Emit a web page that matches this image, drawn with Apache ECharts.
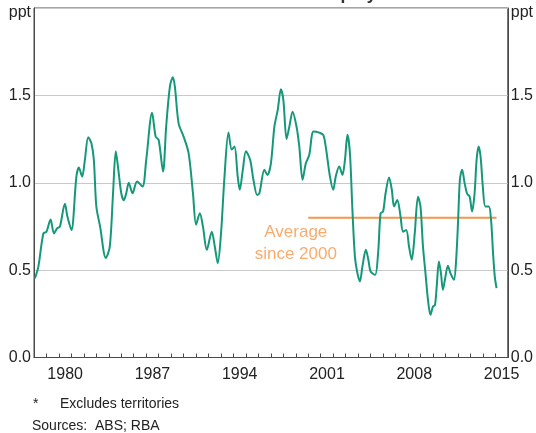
<!DOCTYPE html>
<html>
<head>
<meta charset="utf-8">
<script src="https://cdn.jsdelivr.net/npm/echarts@6/dist/echarts.min.js"></script>
<style>
html,body{margin:0;padding:0;background:#fff;}
#chart{width:536px;height:433px;}
</style>
</head>
<body>
<div id="chart"></div>
<script>
// Year categories for the axis (ticks at year boundaries, labels mid-year)
var years = [];
for (var yr = 1978; yr <= 2015; yr++) years.push(String(yr));
var labelYears = ['1980', '1987', '1994', '2001', '2008', '2015'];

// Standard deviation series (decimal year, ppt)
var sdTime = [1978.08,1978.35,1978.75,1979.0,1979.33,1979.6,1979.87,1980.08,1980.48,1980.67,1981.0,1981.4,1981.6,1981.86,1982.08,1982.35,1982.6,1982.8,1983.0,1983.3,1983.76,1984.08,1984.34,1984.56,1984.74,1985.0,1985.2,1985.4,1985.6,1985.9,1986.27,1986.7,1987.0,1987.47,1987.76,1988.0,1988.35,1988.6,1988.9,1989.14,1989.3,1989.6,1990.0,1990.4,1990.75,1991.0,1991.3,1991.55,1991.86,1992.26,1992.5,1992.74,1993.0,1993.28,1993.6,1993.86,1994.08,1994.34,1994.5,1994.75,1995.0,1995.34,1995.6,1995.9,1996.08,1996.48,1996.72,1997.0,1997.28,1997.55,1997.8,1998.0,1998.26,1998.48,1998.74,1999.06,1999.28,1999.54,1999.8,2000.08,2000.42,2000.88,2001.2,2001.4,2001.74,2002.0,2002.2,2002.48,2002.74,2002.94,2003.14,2003.34,2003.54,2003.74,2003.94,2004.14,2004.34,2004.62,2004.82,2005.0,2005.36,2005.6,2005.8,2006.0,2006.2,2006.48,2006.7,2006.88,2007.14,2007.4,2007.6,2007.86,2008.08,2008.3,2008.54,2008.8,2009.0,2009.2,2009.4,2009.6,2009.8,2010.0,2010.16,2010.3,2010.48,2010.64,2010.8,2010.96,2011.2,2011.4,2011.68,2011.86,2012.02,2012.16,2012.34,2012.54,2012.74,2012.94,2013.14,2013.34,2013.5,2013.66,2013.82,2014.0,2014.2,2014.48,2014.66,2014.82,2014.96,2015.1];
var sdValue = [0.454,0.52,0.71,0.72,0.79,0.71,0.74,0.75,0.88,0.81,0.73,1.035,1.087,1.035,1.13,1.26,1.227,1.13,0.864,0.75,0.569,0.635,0.94,1.18,1.09,0.94,0.90,0.94,1.0,0.94,1.007,0.978,1.13,1.40,1.264,1.245,1.064,1.32,1.55,1.604,1.55,1.34,1.264,1.17,0.94,0.76,0.826,0.75,0.616,0.72,0.635,0.54,0.71,1.035,1.287,1.19,1.207,1.035,0.96,1.074,1.18,1.13,1.017,0.93,0.94,1.074,1.045,1.11,1.32,1.417,1.535,1.474,1.251,1.32,1.407,1.32,1.207,1.017,1.11,1.16,1.293,1.287,1.274,1.207,1.035,0.96,1.035,1.093,1.045,1.13,1.274,1.17,0.845,0.578,0.483,0.435,0.52,0.616,0.559,0.492,0.473,0.597,0.826,0.835,0.94,1.03,0.96,0.864,0.902,0.807,0.72,0.73,0.635,0.559,0.71,0.92,0.864,0.635,0.483,0.33,0.244,0.292,0.30,0.406,0.549,0.483,0.387,0.445,0.525,0.483,0.445,0.559,0.788,1.017,1.074,0.998,0.937,0.921,0.835,0.94,1.13,1.207,1.15,0.978,0.864,0.864,0.788,0.597,0.463,0.397];

// Average since 2000
var avgTime = [2000.0, 2015.1];
var avgValue = 0.80;
var avgLabelPos = [1999.0, 0.653];
var avgLabelText = 'Average\nsince 2000';

var yTicks = [0, 0.5, 1, 1.5, 2];

var sdData = sdTime.map(function (t, i) { return [t, sdValue[i]]; });
var avgData = avgTime.map(function (t) { return [t, avgValue]; });

var chart = echarts.init(document.getElementById('chart'), null, {renderer: 'canvas'});

var axisColor = '#4a4a4a';
var textColor = '#222222';
var fontFam = 'Liberation Sans, Arial, sans-serif';

function yFmt(v) {
  if (Math.abs(v - 2) < 1e-9) return '{u|ppt}';
  return v.toFixed(1);
}
var yRich = { u: { fontSize: 16, color: textColor, fontFamily: fontFam, padding: [10, 0, 0, 0] } };

var option = {
  animation: false,
  backgroundColor: '#ffffff',
  title: {
    text: 'Standard Deviation of State Unemployment Rates*',
    left: 'center',
    top: -20,
    textStyle: { fontSize: 17.5, fontWeight: 'bold', color: '#333', fontFamily: fontFam }
  },
  grid: {
    left: 34, right: 26, top: 8, bottom: 75.5,
    show: true, borderColor: axisColor, borderWidth: 1
  },
  xAxis: [
    {
      type: 'category',
      data: years,
      boundaryGap: true,
      position: 'bottom',
      axisLine: { show: true, lineStyle: { color: axisColor, width: 1 } },
      axisTick: { show: true, inside: true, length: 4, interval: 0, lineStyle: { color: axisColor } },
      axisLabel: {
        interval: function (idx, val) { return labelYears.indexOf(val) >= 0; },
        fontSize: 16, color: textColor, fontFamily: fontFam, margin: 9
      },
      splitLine: { show: false }
    },
    {
      type: 'value',
      min: 1978, max: 2016,
      show: false
    }
  ],
  yAxis: [
    {
      type: 'value', min: 0, max: 2, interval: 0.5,
      position: 'left',
      axisLine: { show: true, lineStyle: { color: axisColor } },
      axisTick: { show: false },
      axisLabel: { formatter: yFmt, rich: yRich, fontSize: 16, color: textColor, fontFamily: fontFam, margin: 3 },
      splitLine: { show: true, lineStyle: { color: '#c9c9c9', width: 1 } }
    },
    {
      type: 'value', min: 0, max: 2, interval: 0.5,
      position: 'right',
      axisLine: { show: true, lineStyle: { color: axisColor } },
      axisTick: { show: false },
      axisLabel: { formatter: yFmt, rich: yRich, fontSize: 16, color: textColor, fontFamily: fontFam, margin: 3 },
      splitLine: { show: false }
    }
  ],
  series: [
    {
      name: 'Average since 2000',
      type: 'line',
      xAxisIndex: 1, yAxisIndex: 0,
      data: avgData,
      symbol: 'none',
      lineStyle: { color: '#f7964a', width: 2 },
      z: 2
    },
    {
      name: 'Standard deviation',
      type: 'line',
      xAxisIndex: 1, yAxisIndex: 0,
      data: sdData,
      symbol: 'none',
      smooth: 0.3,
      lineStyle: { color: '#15987a', width: 2 },
      z: 3
    },
    {
      name: 'label',
      type: 'scatter',
      xAxisIndex: 1, yAxisIndex: 0,
      data: [avgLabelPos],
      symbolSize: 0,
      silent: true,
      label: {
        show: true, position: 'inside', formatter: avgLabelText,
        fontSize: 17, lineHeight: 21.5, color: '#f7964a', fontFamily: fontFam, align: 'center'
      }
    }
  ],
  graphic: [
    { type: 'text', left: 33, top: 397, style: { text: '*', fontSize: 14, fill: textColor, fontFamily: fontFam } },
    { type: 'text', left: 60, top: 397, style: { text: 'Excludes territories', fontSize: 14, fill: textColor, fontFamily: fontFam } },
    { type: 'text', left: 32, top: 419, style: { text: 'Sources:  ABS; RBA', fontSize: 14, fill: textColor, fontFamily: fontFam } }
  ]
};
chart.setOption(option);
</script>
</body>
</html>
